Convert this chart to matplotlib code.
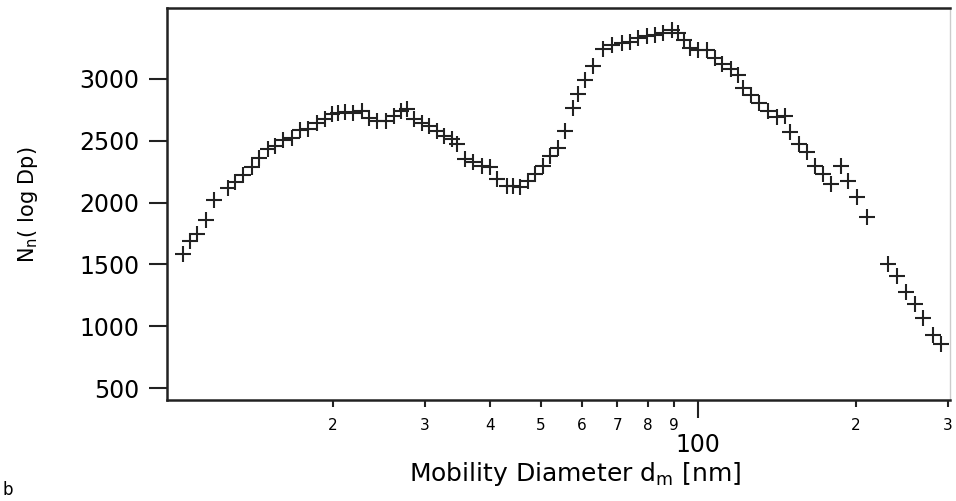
import matplotlib
matplotlib.use("Agg")
import matplotlib.pyplot as plt
from matplotlib.ticker import FixedLocator, FixedFormatter

# diameters (nm) and concentrations
diam = [10.33, 10.67, 10.99, 11.43, 11.86, 12.63, 13.01, 13.49, 14.00, 14.48,
        15.02, 15.52, 16.09, 16.70, 17.32, 17.96, 18.67, 19.33, 19.94, 20.47,
        21.11, 21.90, 22.72, 23.50, 24.34, 25.26, 26.20, 27.02, 27.74, 28.64,
        29.60, 30.60, 31.62, 32.65, 33.77, 34.57, 35.81, 37.14, 38.54, 39.98,
        41.22, 43.03, 44.29, 45.62, 47.32, 48.73, 50.55, 52.06, 54.00, 55.62,
        57.53, 58.97, 60.73, 63.00, 65.74, 68.55, 71.39, 74.05, 76.79, 79.69,
        82.66, 85.72, 88.96, 91.57, 93.90, 96.42, 100.0, 103.8, 107.7, 111.0,
        115.5, 119.1, 121.8, 126.1, 130.6, 135.9, 141.4, 146.5, 149.8, 155.8,
        161.4, 167.2, 173.2, 179.4, 187.5, 193.4, 201.6, 209.8, 230.8, 239.5,
        249.6, 259.6, 269.5, 281.1, 291.1]
conc = [1587, 1686, 1748, 1855, 2021, 2115, 2163, 2221, 2283, 2358,
        2430, 2457, 2505, 2524, 2585, 2596, 2639, 2677, 2711, 2723,
        2730, 2719, 2738, 2685, 2657, 2657, 2697, 2738, 2751, 2671,
        2644, 2617, 2577, 2537, 2510, 2470, 2350, 2323, 2296, 2283,
        2189, 2136, 2136, 2123, 2176, 2230, 2296, 2376, 2444, 2577,
        2765, 2872, 2992, 3099, 3241, 3273, 3287, 3299, 3327, 3340,
        3353, 3367, 3393, 3367, 3313, 3246, 3233, 3233, 3169, 3120,
        3080, 3032, 2928, 2864, 2807, 2735, 2687, 2695, 2567, 2470,
        2406, 2294, 2230, 2149, 2294, 2173, 2045, 1884, 1507, 1407,
        1274, 1178, 1066, 929, 857]

minor_ticks = [20, 30, 40, 50, 60, 70, 80, 90, 200, 300]
minor_labels = ["2", "3", "4", "5", "6", "7", "8", "9", "2", "3"]
y_ticks = [500, 1000, 1500, 2000, 2500, 3000]

fig = plt.figure(figsize=(9.56, 5.01), dpi=100)
ax = fig.add_axes([167 / 956, 101 / 501, 783 / 956, 392 / 501])

ax.plot(diam, conc, linestyle="none", marker="+", markersize=11.5,
        markeredgewidth=1.5, color="#222222")

ax.set_xscale("log")
ax.set_xlim(9.64, 303)
ax.set_ylim(406, 3570)

ax.xaxis.set_major_locator(FixedLocator([100]))
ax.xaxis.set_major_formatter(FixedFormatter(["100"]))
ax.xaxis.set_minor_locator(FixedLocator(minor_ticks))
ax.xaxis.set_minor_formatter(FixedFormatter(minor_labels))
ax.set_yticks(y_ticks)
ax.set_yticklabels([str(v) for v in y_ticks])

ax.tick_params(axis="x", which="minor", length=5, width=1.5, labelsize=11, pad=8,
               direction="out", color="#222222")
ax.tick_params(axis="x", which="major", length=13, width=1.5, labelsize=17, pad=11,
               direction="out", color="#222222")
ax.tick_params(axis="y", which="major", length=13, width=1.5, labelsize=17, pad=7,
               direction="out", color="#222222")

for side in ["left", "bottom", "top"]:
    ax.spines[side].set_linewidth(1.8)
    ax.spines[side].set_color("#222222")
ax.spines["right"].set_linewidth(1.0)
ax.spines["right"].set_color("#cccccc")

ax.set_xlabel(r"Mobility Diameter d$_{\mathregular{m}}$ [nm]", fontsize=18)
ax.xaxis.set_label_coords(0.521, -0.152)
ax.set_ylabel(r"N$_{\mathregular{n}}$( log Dp)", fontsize=15)
ax.yaxis.set_label_coords(-0.162, 0.497)

fig.text(2 / 956, 1 - 490 / 501, "b", fontsize=12, va="center", ha="left")

fig.savefig("out.png", dpi=100)
